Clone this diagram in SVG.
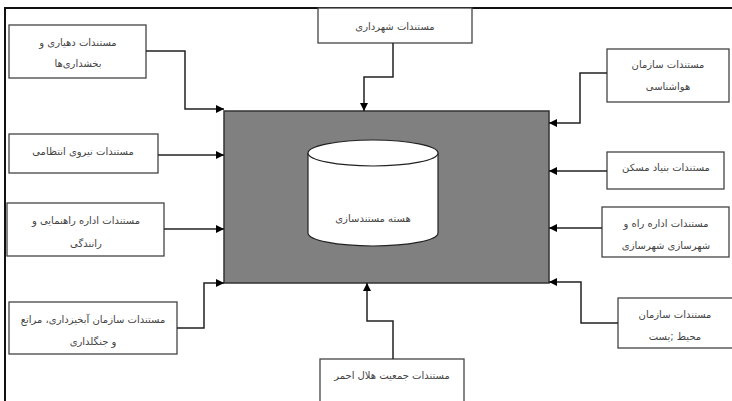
<svg xmlns="http://www.w3.org/2000/svg" width="732" height="401" viewBox="0 0 732 401">
<style>
.box{fill:#fff;stroke:#444;stroke-width:1.3}
.t{font-family:"DejaVu Sans","Noto Sans",sans-serif;font-size:10px;fill:#444;text-anchor:middle;direction:rtl}
.c{fill:none;stroke:#222;stroke-width:1.5}
</style>
<defs>
<marker id="ah" viewBox="0 0 10 10" refX="10" refY="5" markerWidth="8" markerHeight="8" markerUnits="userSpaceOnUse" orient="auto">
<path d="M0,0 L10,5 L0,10 Z" fill="#000"/>
</marker>
</defs>
<rect width="732" height="401" fill="#fff"/>
<g id="frame">
<path d="M5,401 V8 H732" fill="none" stroke="#111" stroke-width="2"/>
</g>
<g id="core">
<rect x="224" y="111" width="325" height="172" fill="#808080" stroke="#333" stroke-width="1.5"/>
<path d="M308,153 V233 A65,13 0 0 0 438,233 V153" fill="#fff" stroke="#222" stroke-width="1.2"/>
<ellipse cx="373" cy="153" rx="65" ry="13" fill="#fff" stroke="#222" stroke-width="1.2"/>
<text class="t" x="373" y="222">هسته مستندسازی</text>
</g>
<g id="n1">
<rect class="box" x="9" y="25" width="137" height="53"/>
<text class="t" x="78" y="46">مستندات دهیاری و</text>
<text class="t" x="78" y="67">بخشداری‌ها</text>
</g>
<g id="n2">
<rect class="box" x="318" y="8" width="154" height="35"/>
<text class="t" x="395" y="30">مستندات شهرداری</text>
</g>
<g id="n3">
<rect class="box" x="607" y="49" width="122" height="53"/>
<text class="t" x="668" y="68">مستندات سازمان</text>
<text class="t" x="668" y="90">هواشناسی</text>
</g>
<g id="n4">
<rect class="box" x="9" y="134" width="149" height="39"/>
<text class="t" x="83" y="155">مستندات نیروی انتظامی</text>
</g>
<g id="n5">
<rect class="box" x="7" y="203" width="157" height="53"/>
<text class="t" x="86" y="224">مستندات اداره راهنمایی و</text>
<text class="t" x="86" y="247">رانندگی</text>
</g>
<g id="n6">
<rect class="box" x="607" y="152" width="117" height="37"/>
<text class="t" x="666" y="171">مستندات بنیاد مسکن</text>
</g>
<g id="n7">
<rect class="box" x="602" y="207" width="127" height="50"/>
<text class="t" x="666" y="227">مستندات اداره راه و</text>
<text class="t" x="666" y="249">شهرسازی شهرسازی</text>
</g>
<g id="n8">
<rect class="box" x="9" y="302" width="168" height="52"/>
<text class="t" x="93" y="323">مستندات سازمان آبخیزداری، مراتع</text>
<text class="t" x="93" y="345">و جنگلداری</text>
</g>
<g id="n9">
<rect class="box" x="320" y="359" width="144" height="50"/>
<text class="t" x="392" y="379">مستندات جمعیت هلال احمر</text>
</g>
<g id="n10">
<rect class="box" x="618" y="298" width="120" height="50"/>
<text class="t" x="675" y="318">مستندات سازمان</text>
<text class="t" x="675" y="340">محیط ;یست</text>
</g>
<g id="connectors">
<path class="c" d="M146,51 H185 V109 H224" marker-end="url(#ah)"/>
<path class="c" d="M393,43 V77 H364 V111" marker-end="url(#ah)"/>
<path class="c" d="M607,73 H580 V123 H549" marker-end="url(#ah)"/>
<path class="c" d="M158,155 H224" marker-end="url(#ah)"/>
<path class="c" d="M164,229 H224" marker-end="url(#ah)"/>
<path class="c" d="M607,171 H549" marker-end="url(#ah)"/>
<path class="c" d="M602,228 H549" marker-end="url(#ah)"/>
<path class="c" d="M177,328 H204 V283 H224" marker-end="url(#ah)"/>
<path class="c" d="M393,359 V321 H367 V283" marker-end="url(#ah)"/>
<path class="c" d="M618,323 H581 V282 H549" marker-end="url(#ah)"/>
</g>
</svg>
